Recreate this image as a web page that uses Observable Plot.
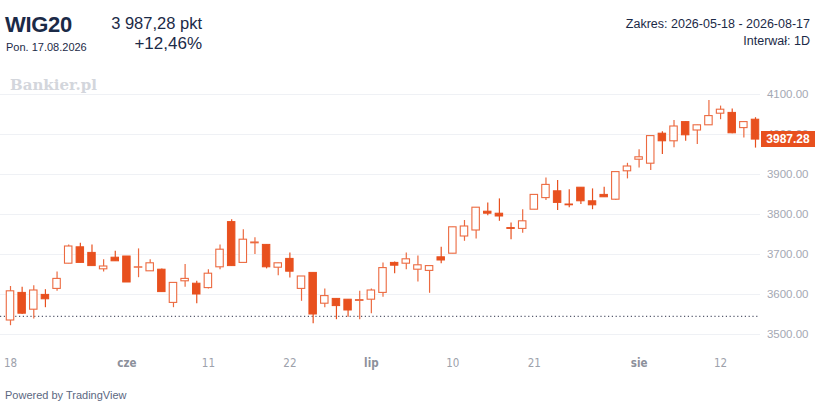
<!DOCTYPE html>
<html>
<head>
<meta charset="utf-8">
<script src="https://cdn.jsdelivr.net/npm/d3@7"></script>
<script src="https://cdn.jsdelivr.net/npm/@observablehq/plot@0.6"></script>
<style>
  html, body { margin: 0; padding: 0; background: #fff; }
  #wrap { position: relative; width: 815px; height: 403px; overflow: hidden; font-family: "Liberation Sans", Arial, sans-serif; color: #1b2a47; }
  .abs { position: absolute; white-space: nowrap; }
  #chart { position: absolute; left: 0; top: 60px; }
</style>
</head>
<body>
<div id="wrap">
  <div class="abs" style="left:5px;top:12px;font-size:22px;font-weight:bold;letter-spacing:-0.3px;">WIG20</div>
  <div class="abs" style="left:6px;top:41px;font-size:11px;">Pon. 17.08.2026</div>
  <div class="abs" style="right:613px;top:14px;font-size:16.5px;text-align:right;">3 987,28 pkt</div>
  <div class="abs" style="right:613px;top:34px;font-size:17px;text-align:right;">+12,46%</div>
  <div class="abs" style="right:5px;top:17px;font-size:12.5px;text-align:right;">Zakres: 2026-05-18 - 2026-08-17</div>
  <div class="abs" style="right:5px;top:34px;font-size:12.5px;text-align:right;">Interwał: 1D</div>
  <div class="abs" style="left:10px;top:76px;font-size:15px;font-weight:bold;font-family:'DejaVu Serif','Liberation Serif',serif;color:#d3d6dc;">Bankier.pl</div>
  <div id="chart"></div>
  <div class="abs" style="left:5px;top:389px;font-size:11px;color:#5b6781;">Powered by TradingView</div>
</div>
<script>
// Trading days (dates) 2026-05-18 .. 2026-08-17 (Boże Ciało 2026-06-04 closed)
const dates = [
  "2026-05-18","2026-05-19","2026-05-20","2026-05-21","2026-05-22",
  "2026-05-25","2026-05-26","2026-05-27","2026-05-28","2026-05-29",
  "2026-06-01","2026-06-02","2026-06-03","2026-06-05",
  "2026-06-08","2026-06-09","2026-06-10","2026-06-11","2026-06-12",
  "2026-06-15","2026-06-16","2026-06-17","2026-06-18","2026-06-19",
  "2026-06-22","2026-06-23","2026-06-24","2026-06-25","2026-06-26",
  "2026-06-29","2026-06-30","2026-07-01","2026-07-02","2026-07-03",
  "2026-07-06","2026-07-07","2026-07-08","2026-07-09","2026-07-10",
  "2026-07-13","2026-07-14","2026-07-15","2026-07-16","2026-07-17",
  "2026-07-20","2026-07-21","2026-07-22","2026-07-23","2026-07-24",
  "2026-07-27","2026-07-28","2026-07-29","2026-07-30","2026-07-31",
  "2026-08-03","2026-08-04","2026-08-05","2026-08-06","2026-08-07",
  "2026-08-10","2026-08-11","2026-08-12","2026-08-13","2026-08-14",
  "2026-08-17"
];
const open = [3535,3604,3562,3599,3614,3677,3718,3704,3663,3692,
              3695,3667,3658,3662,3579,3633,3627,3616,3668,3781,
              3679,3728,3724,3667,3689,3614,3654,3577,3589,3587,
              3584,3587,3604,3679,3677,3662,3659,3693,3702,3745,
              3760,3807,3802,3766,3764,3812,3841,3858,3825,3867,
              3833,3849,3837,3908,3937,3927,4002,3983,4031,4010,
              4023,4052,4054,4016,4037];
const high = [3620,3618,3622,3612,3656,3724,3728,3724,3687,3708,
              3695,3714,3687,3664,3629,3675,3633,3662,3724,3787,
              3762,3742,3724,3678,3704,3645,3654,3614,3589,3587,
              3608,3614,3679,3681,3704,3696,3671,3718,3768,3785,
              3817,3829,3839,3779,3812,3849,3891,3885,3862,3867,
              3864,3868,3906,3928,3962,3996,4007,4035,4031,4023,
              4085,4071,4064,4031,4042];
const low  = [3522,3550,3539,3567,3608,3677,3679,3671,3656,3683,
              3630,3642,3658,3606,3567,3618,3577,3614,3662,3671,
              3679,3700,3664,3647,3641,3583,3527,3567,3537,3543,
              3537,3552,3593,3652,3662,3631,3603,3677,3702,3733,
              3739,3797,3783,3737,3753,3812,3835,3810,3817,3825,
              3812,3843,3835,3889,3916,3910,3950,3967,3983,3975,
              4023,4037,4002,3991,3966];
const close = [3608,3552,3610,3588,3639,3720,3679,3671,3670,3683,
               3630,3668,3678,3606,3629,3639,3600,3652,3712,3671,
               3737,3730,3668,3678,3657,3645,3550,3596,3571,3560,
               3586,3610,3666,3672,3688,3673,3671,3685,3768,3770,
               3817,3802,3795,3764,3783,3849,3874,3829,3823,3833,
               3823,3843,3906,3920,3943,3996,3983,4020,3998,4023,
               4046,4062,4003,4031,3987.28];
const prevClose = 3545.51;
const yTicks = [3500, 3600, 3700, 3800, 3900, 4000, 4100];
const xTickDates = ["2026-05-18","2026-06-01","2026-06-11","2026-06-22","2026-07-01","2026-07-10","2026-07-21","2026-08-03","2026-08-12"];
const xTickLabels = ["18","cze","11","22","lip","10","21","sie","12"];
const xTickIsMonth = [false,true,false,false,true,false,false,true,false];

const candles = dates.map((d, i) => ({i, date: d, open: open[i], high: high[i], low: low[i], close: close[i]}));
const up = candles.filter(d => d.close >= d.open);
const down = candles.filter(d => d.close < d.open);
const xTicks = xTickDates.map((d, k) => ({i: dates.indexOf(d), label: xTickLabels[k], month: xTickIsMonth[k]}));

const FILL = "#e8501e";
const HOLLOW = "#ec6a40";
const half = 0.32;

const chart = Plot.plot({
  width: 815,
  height: 320,
  marginTop: 34,
  marginBottom: 46,
  marginLeft: 10,
  marginRight: 60,
  x: {domain: [0, dates.length - 1], axis: null},
  y: {domain: [3500, 4100], axis: null},
  style: {background: "transparent", overflow: "visible"},
  marks: [
    Plot.ruleY(yTicks, {stroke: "#eff1f5", strokeWidth: 1, insetLeft: -10, insetRight: -5}),
    Plot.ruleY([prevClose], {stroke: "#575b6e", strokeWidth: 1.2, strokeDasharray: "1.2,2.6", insetLeft: -10, insetRight: -5}),
    Plot.ruleX(down, {x: "i", y1: "low", y2: "high", stroke: FILL, strokeWidth: 1.2}),
    Plot.ruleX(up, {x: "i", y1: "low", y2: "high", stroke: HOLLOW, strokeWidth: 1.2}),
    Plot.rect(down, {x1: d => d.i - half, x2: d => d.i + half, y1: "open", y2: "close", fill: FILL, stroke: FILL, strokeWidth: 1}),
    Plot.rect(up, {x1: d => d.i - half, x2: d => d.i + half, y1: "open", y2: "close", fill: "white", stroke: HOLLOW, strokeWidth: 1.1}),
    Plot.text(yTicks, {y: d => d, text: d => d.toFixed(2), frameAnchor: "right", textAnchor: "end", dx: 53, fill: "#a4a8b3", fontSize: 11.5, fontFamily: "Liberation Sans, Arial, sans-serif"}),
    Plot.text(xTicks.filter(d => !d.month), {x: "i", text: "label", frameAnchor: "bottom", dy: 32, fill: "#9da1ab", fontSize: 11.5, fontFamily: "'Liberation Sans Narrow', 'DejaVu Sans Condensed', sans-serif"}),
    Plot.text(xTicks.filter(d => d.month), {x: "i", text: "label", frameAnchor: "bottom", dy: 32, fill: "#8c909b", fontWeight: "bold", fontSize: 11.5, fontFamily: "'Liberation Sans Narrow', 'DejaVu Sans Condensed', sans-serif"})
  ]
});
document.getElementById("chart").appendChild(chart);

// Last price label on the right axis
const yPos = chart.scale("y").apply(close[close.length - 1]);
const lbl = document.createElement("div");
lbl.className = "abs";
lbl.textContent = close[close.length - 1].toFixed(2);
Object.assign(lbl.style, {
  left: "761px", top: (60 + yPos - 8) + "px", width: "54px", height: "16px",
  lineHeight: "16px", background: FILL, color: "#fff", fontWeight: "bold",
  fontSize: "12px", textAlign: "center"
});
document.getElementById("wrap").appendChild(lbl);
</script>
</body>
</html>
